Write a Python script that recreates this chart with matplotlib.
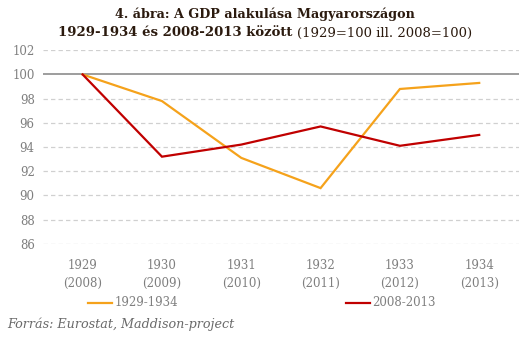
import matplotlib
matplotlib.use("Agg")
import matplotlib.pyplot as plt
from matplotlib.lines import Line2D

categories = ["1929\n(2008)", "1930\n(2009)", "1931\n(2010)", "1932\n(2011)", "1933\n(2012)", "1934\n(2013)"]
series_1929 = [100.0, 97.8, 93.1, 90.6, 98.8, 99.3]
series_2008 = [100.0, 93.2, 94.2, 95.7, 94.1, 95.0]
label_1929 = "1929-1934"
label_2008 = "2008-2013"
y_ticks = [86, 88, 90, 92, 94, 96, 98, 100, 102]

ORANGE = "#F5A21B"
RED = "#C00000"
GRAY = "#7F7F7F"
TITLE_C = "#2B1A0E"
FONT = "DejaVu Serif"

fig = plt.figure(figsize=(5.30, 3.41), dpi=100)
ax = fig.add_axes([0.0811, 0.2853, 0.8979, 0.5672])

x = list(range(len(categories)))
ax.plot(x, series_1929, color=ORANGE, lw=1.6, solid_joinstyle="miter", zorder=3)
ax.plot(x, series_2008, color=RED, lw=1.6, solid_joinstyle="miter", zorder=4)

ax.set_xlim(-0.5, len(categories) - 0.5)
ax.set_ylim(86, 102)
ax.set_yticks(y_ticks)
ax.set_yticklabels([str(v) for v in y_ticks], fontsize=8.5, color=GRAY, family=FONT)
ax.set_xticks(x)
ax.set_xticklabels(categories, fontsize=8.5, color=GRAY, family=FONT, linespacing=1.45)
ax.tick_params(axis="both", length=0)
ax.tick_params(axis="y", pad=6)
ax.tick_params(axis="x", pad=11)

for v in y_ticks:
    if v != 100:
        ax.axhline(v, color="#D0D0D0", lw=0.9, ls=(0, (3.5, 2.5)), zorder=1)
ax.axhline(100, color="#8C8C8C", lw=1.2, zorder=2)
for s in ax.spines.values():
    s.set_visible(False)

# Title: bold first line, mixed second line
fig.text(0.5, 1 - 14 / 341, "4. ábra: A GDP alakulása Magyarországon", ha="center", va="center",
         fontsize=9.2, fontweight="bold", color=TITLE_C, family=FONT)
bold_part = "1929-1934 és 2008-2013 között "
reg_part = "(1929=100 ill. 2008=100)"
fig.canvas.draw()
r = fig.canvas.get_renderer()
t1 = fig.text(0, 1 - 33 / 341, bold_part, ha="left", va="center", fontsize=9.5,
              fontweight="bold", color=TITLE_C, family=FONT)
t2 = fig.text(0, 1 - 33 / 341, reg_part, ha="left", va="center", fontsize=9.5,
              color=TITLE_C, family=FONT)
w1 = t1.get_window_extent(r).width
w2 = t2.get_window_extent(r).width
W = fig.bbox.width
x0 = (W - (w1 + w2)) / 2
t1.set_x(x0 / W)
t2.set_x((x0 + w1) / W)

# Legend below the axis
ly = 1 - 303 / 341
fig.add_artist(Line2D([88 / 530, 112 / 530], [ly, ly], color=ORANGE, lw=1.6))
fig.text(115 / 530, ly, label_1929, ha="left", va="center", fontsize=8.5, color=GRAY, family=FONT)
fig.add_artist(Line2D([346 / 530, 370 / 530], [ly, ly], color=RED, lw=1.6))
fig.text(372 / 530, ly, label_2008, ha="left", va="center", fontsize=8.5, color=GRAY, family=FONT)

fig.text(7 / 530, 1 - 324 / 341, "Forrás: Eurostat, Maddison-project", ha="left", va="center",
         fontsize=9.2, style="italic", color="#6A6A6A", family=FONT)

fig.savefig("out.png", dpi=100, facecolor="white")
